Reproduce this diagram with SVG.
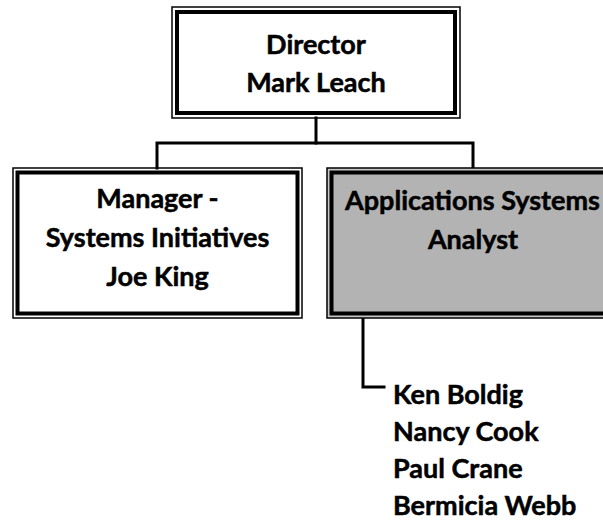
<svg xmlns="http://www.w3.org/2000/svg" width="603" height="522" viewBox="0 0 603 522">
<style>
.outer{fill:none;stroke:#000;stroke-width:1.5}
.inner{fill:#fff;stroke:#000;stroke-width:4}
.grey .outer{fill:#c8c8c8}
.grey .inner{fill:#b3b3b3}
.conn{fill:none;stroke:#000;stroke-width:3;stroke-linejoin:miter;stroke-linecap:square}
text{font-family:Lato,"Open Sans","Liberation Sans",sans-serif;font-weight:bold;font-size:27px;fill:#000;stroke:#000;stroke-width:0.5}
.c{text-anchor:middle}
</style>
<rect width="603" height="522" fill="#fff"/>
<g id="connectors">
<path class="conn" d="M316 118 V143"/>
<path class="conn" d="M157 168 V143 H473 V168"/>
<path class="conn" d="M363 318 V387 H384"/>
</g>
<g id="director">
<rect class="outer" x="172" y="7" width="288" height="111"/>
<rect class="inner" x="177" y="12" width="278" height="101"/>
<text class="c" x="316" y="54">Director</text>
<text class="c" x="316" y="92">Mark Leach</text>
</g>
<g id="manager">
<rect class="outer" x="13" y="168" width="289" height="150"/>
<rect class="inner" x="17.5" y="172.5" width="280" height="141"/>
<text class="c" x="157.5" y="208">Manager -</text>
<text class="c" x="157.5" y="247">Systems Initiatives</text>
<text class="c" x="157.5" y="286">Joe King</text>
</g>
<g id="analyst" class="grey">
<rect class="outer" x="327" y="168" width="292" height="150"/>
<rect class="inner" x="331.5" y="172.5" width="283" height="141"/>
<text class="c" x="472.5" y="210" textLength="255" lengthAdjust="spacingAndGlyphs">Applications Systems</text>
<text class="c" x="473" y="249">Analyst</text>
</g>
<g id="staff">
<text x="393" y="404">Ken Boldig</text>
<text x="393" y="441">Nancy Cook</text>
<text x="393" y="478">Paul Crane</text>
<text x="393" y="515">Bermicia Webb</text>
</g>
</svg>
